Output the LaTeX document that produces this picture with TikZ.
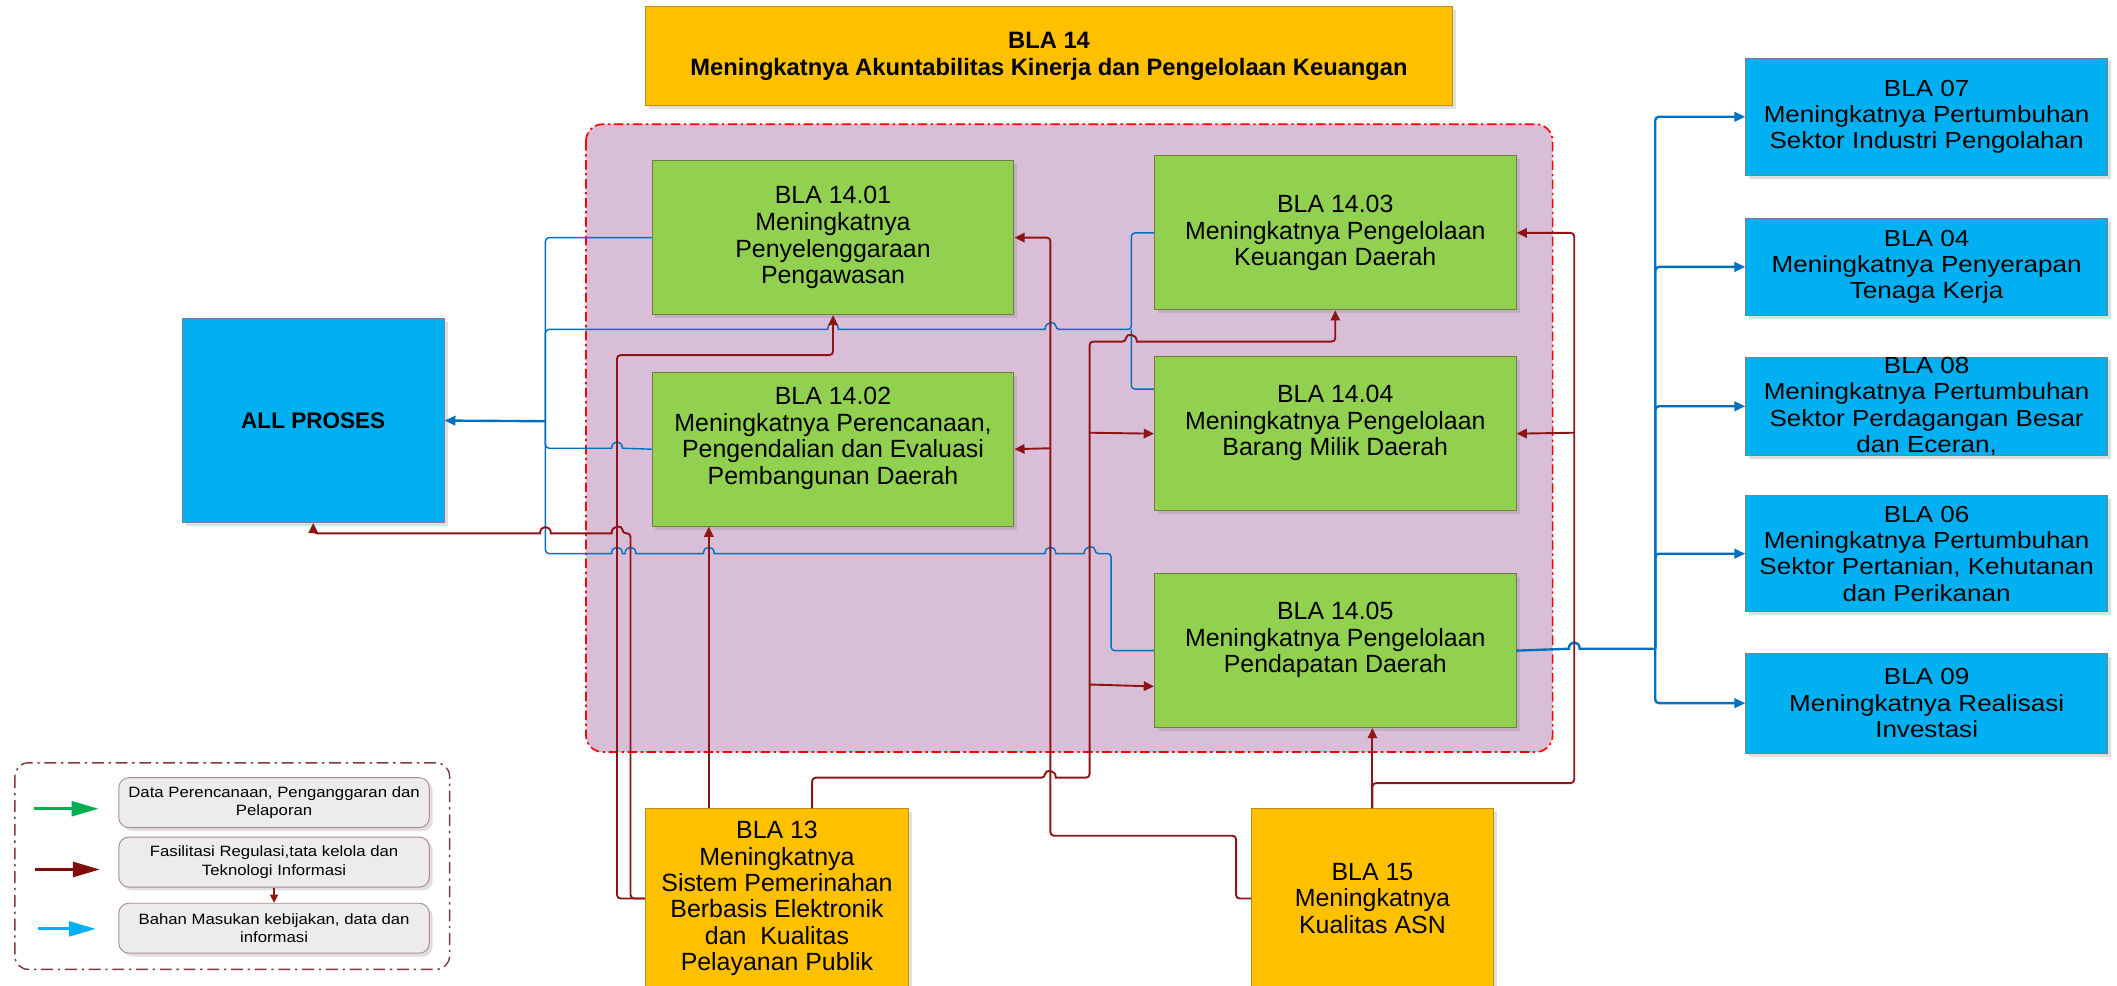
\documentclass[tikz,border=0pt]{standalone}
\usepackage{fontspec}
\setmainfont{Liberation Sans}
\newfontfamily\widefont[FakeStretch=1.12]{Liberation Sans}
\usepackage{xcolor}
\usepackage{tikz}
\usetikzlibrary{positioning,arrows.meta,shadows}

\definecolor{boxOrange}{HTML}{FFC000}
\definecolor{orangeEdge}{RGB}{190,140,30}
\definecolor{boxGreen}{HTML}{92D050}
\definecolor{greenEdge}{RGB}{115,125,65}
\definecolor{boxBlue}{HTML}{00B0F0}
\definecolor{blueEdge}{RGB}{125,125,140}
\definecolor{regionFill}{RGB}{216,190,215}
\definecolor{lineBlue}{HTML}{0070C0}
\definecolor{lineRed}{RGB}{140,22,22}
\definecolor{legGreen}{HTML}{00B050}
\definecolor{legRed}{RGB}{128,12,12}
\definecolor{legFrame}{RGB}{125,60,60}
\definecolor{legFill}{RGB}{236,236,236}
\definecolor{legEdge}{RGB}{175,140,140}

\begin{document}
\begin{tikzpicture}[x=0.2mm, y=-0.2mm, node distance=6mm]
    % Define styles
    \tikzstyle{boxshadow} = [drop shadow={opacity=0.25, shadow xshift=0.5mm, shadow yshift=-0.5mm}]
    \tikzstyle{topbox} = [rectangle, minimum width=119.6mm, minimum height=14.6mm, text centered, align=center, draw=orangeEdge, fill=boxOrange, boxshadow, font=\bfseries\fontsize{10}{11.4}\selectfont]
    \tikzstyle{mainbox} = [rectangle, minimum height=26.6mm, text centered, align=center, draw=orangeEdge, fill=boxOrange, boxshadow, font=\fontsize{10.5}{11.1}\selectfont]
    \tikzstyle{subbox} = [rectangle, minimum width=53.6mm, minimum height=22.8mm, text centered, align=center, draw=greenEdge, fill=boxGreen, boxshadow, font=\fontsize{10.5}{11.2}\selectfont]
    \tikzstyle{outbox} = [rectangle, minimum width=53.6mm, inner ysep=0pt, text centered, align=center, draw=blueEdge, fill=boxBlue, boxshadow, font=\widefont\fontsize{9.8}{11.1}\selectfont]
    \tikzstyle{legendbox} = [rectangle, rounded corners=1.5mm, minimum width=46mm, minimum height=7.4mm, text centered, align=center, draw=legEdge, fill=legFill, boxshadow, font=\widefont\fontsize{6.3}{7.7}\selectfont]
    \tikzstyle{region} = [draw=red, fill=regionFill, line width=0.7pt, rounded corners=2.5mm, dash pattern=on 4pt off 1.5pt on 1pt off 1.5pt]
    \tikzstyle{legendframe} = [draw=legFrame, line width=0.6pt, rounded corners=2mm, dash pattern=on 5pt off 2pt on 1pt off 2pt]
    \tikzstyle{bump} = [out=90, in=90, looseness=2]
    \tikzstyle{blueline} = [draw=lineBlue, line width=0.6pt, rounded corners=1.5pt]
    \tikzstyle{bluearrow} = [draw=lineBlue, line width=1pt, rounded corners=1.5pt, -{Triangle[length=1.6mm,width=1.4mm]}]
    \tikzstyle{redarrow} = [draw=lineRed, line width=0.8pt, rounded corners=1.5pt, -{Triangle[length=1.5mm,width=1.4mm]}]
    \tikzstyle{legendarrow} = [line width=1.3pt, -{Triangle[length=4mm,width=2.2mm]}]

    \useasboundingbox (0,0) rectangle (1568,730);

    % Background
    \draw [region] (434,92) rectangle (1150,557);
    \draw [legendframe] (11,565) rectangle (333,718);

    % Nodes
    \node [topbox] (bla14) at (777,41.5) {BLA 14\\Meningkatnya Akuntabilitas Kinerja dan Pengelolaan Keuangan};
    \node [rectangle, minimum width=38.8mm, minimum height=30.2mm, draw=blueEdge, fill=boxBlue, boxshadow, font=\bfseries\fontsize{9.5}{11}\selectfont] (allproses) at (232,311.5) {ALL PROSES};

    \node [subbox] (bla1401) at (617,176) {BLA 14.01\\Meningkatnya\\Penyelenggaraan\\Pengawasan};
    \node [subbox, below=8.4mm of bla1401] (bla1402) {BLA 14.02\\Meningkatnya Perencanaan,\\Pengendalian dan Evaluasi\\Pembangunan Daerah\\~};
    \node [subbox] (bla1403) at (989,172.5) {BLA 14.03\\Meningkatnya Pengelolaan\\Keuangan Daerah};
    \node [subbox, below=6.8mm of bla1403] (bla1404) {BLA 14.04\\Meningkatnya Pengelolaan\\Barang Milik Daerah\\~};
    \node [subbox, below=9.2mm of bla1404] (bla1405) {BLA 14.05\\Meningkatnya Pengelolaan\\Pendapatan Daerah\\~};

    \node [outbox, minimum height=17.4mm] (bla07) at (1427,86.5) {BLA 07\\Meningkatnya Pertumbuhan\\Sektor Industri Pengolahan};
    \node [outbox, minimum height=14.4mm, below=6.2mm of bla07] (bla04) {BLA 04\\Meningkatnya Penyerapan\\Tenaga Kerja};
    \node [outbox, minimum height=14.6mm, below=6mm of bla04] (bla08) {BLA 08\\Meningkatnya Pertumbuhan\\Sektor Perdagangan Besar\\dan Eceran,};
    \node [outbox, minimum height=17.2mm, below=5.8mm of bla08] (bla06) {BLA 06\\Meningkatnya Pertumbuhan\\Sektor Pertanian, Kehutanan\\dan Perikanan};
    \node [outbox, minimum height=14.8mm, below=6mm of bla06] (bla09) {BLA 09\\Meningkatnya Realisasi\\Investasi};

    \node [mainbox, minimum width=39mm] (bla13) at (575.5,665.5) {BLA 13\\Meningkatnya\\Sistem Pemerinahan\\Berbasis Elektronik\\dan~~Kualitas\\Pelayanan Publik};
    \node [mainbox, minimum width=35.8mm] (bla15) at (1016.5,665.5) {BLA 15\\Meningkatnya\\Kualitas ASN};

    \node [legendbox] (leg1) at (203,594.5) {Data Perencanaan, Penganggaran dan\\Pelaporan};
    \node [legendbox] (leg2) at (203,638.5) {Fasilitasi Regulasi,tata kelola dan\\Teknologi Informasi};
    \node [legendbox] (leg3) at (203,687.5) {Bahan Masukan kebijakan, data dan\\informasi};

    % Junctions
    \coordinate (lbus) at (404,312);
    \coordinate (rbus) at (1226,480.5);
    \coordinate (j1304) at (807,320.5);
    \coordinate (j1305) at (807,507);
    \coordinate (j1502) at (778,332);
    \coordinate (j1504) at (1166,320.5);

    % Arrows to ALL PROSES
    \draw [blueline] (bla1401.west) -| (lbus);
    \draw [blueline] (bla1403.west) -| (838,244) -- (782,244) [sharp corners] to[bump] (774,244) -- (621,244) to[bump] (613,244) [rounded corners=1.5pt] -| (lbus);
    \draw [blueline] ([yshift=6.6mm]bla1404.west) -| (838,244);
    \draw [blueline] (bla1402.west) [sharp corners] -- (461,332) to[bump] (453,332) [rounded corners=1.5pt] -| (lbus);
    \draw [blueline] (bla1405.west) -| (823,410) -- (811,410) [sharp corners] to[bump] (803,410) -- (782,410) to[bump] (774,410) -- (529,410) to[bump] (521,410) -- (471,410) to[bump] (463,410) -- (461,410) to[bump] (453,410) [rounded corners=1.5pt] -| (lbus);
    \draw [bluearrow] (lbus) -- (allproses.east);

    % Arrows to the other BLA
    \draw [blueline, line width=1pt, sharp corners] (bla1405.east) -- (1162,480.5) to[bump] (1170,480.5) -- (rbus);
    \draw [bluearrow] (rbus) |- (bla07.west);
    \draw [bluearrow] (rbus) |- (bla04.west);
    \draw [bluearrow] (rbus) |- (bla08.west);
    \draw [bluearrow] (rbus) |- (bla06.west);
    \draw [bluearrow] (rbus) |- (bla09.west);

    % Arrows from BLA 13
    \draw [redarrow] ([xshift=-10.1mm]bla13.north) -- ([xshift=-10.1mm]bla13.north |- bla1402.south);
    \draw [redarrow] ([xshift=5.2mm]bla13.north) |- (774,576) [sharp corners] to[bump] (782,576) [rounded corners=1.5pt] -| (807,253) -- (834,253) [sharp corners] to[bump] (842,253) [rounded corners=1.5pt] -| (bla1403.south);
    \draw [redarrow] (j1304) -- (bla1404.west);
    \draw [redarrow] (j1305) -- ([yshift=-5.3mm]bla1405.west);
    \draw [redarrow] (bla13.west) -| (457,263) -| (bla1401.south);
    \draw [redarrow] (bla13.west) -| (467,395) -- (461,395) [sharp corners] to[bump] (453,395) -- (408,395) to[bump] (400,395) [rounded corners=1.5pt] -| (allproses.south);

    % Arrows from BLA 15
    \draw [redarrow] (bla15.north) -- (bla15.north |- bla1405.south);
    \draw [redarrow] (bla15.north) |- (1166,580) |- (bla1403.east);
    \draw [redarrow] (j1504) -- (bla1404.east);
    \draw [redarrow] (bla15.west) -| (915.5,619) -| (778,176) -- (bla1401.east);
    \draw [redarrow] (j1502) -- (bla1402.east);

    % Legend arrows
    \coordinate (g1) at (25,599);
    \coordinate (g2) at (73,599);
    \coordinate (r1) at (26,644);
    \coordinate (r2) at (74,644);
    \coordinate (b1) at (28,688);
    \coordinate (b2) at (71,688);
    \draw [legendarrow, draw=legGreen, fill=legGreen] (g1) -- (g2);
    \draw [legendarrow, draw=legRed, fill=legRed] (r1) -- (r2);
    \draw [legendarrow, draw=boxBlue, fill=boxBlue] (b1) -- (b2);
    \draw [redarrow, line width=0.6pt, -{Triangle[length=1.2mm,width=1.2mm]}] (leg2.south) -- (leg3.north);

\end{tikzpicture}
\end{document}
